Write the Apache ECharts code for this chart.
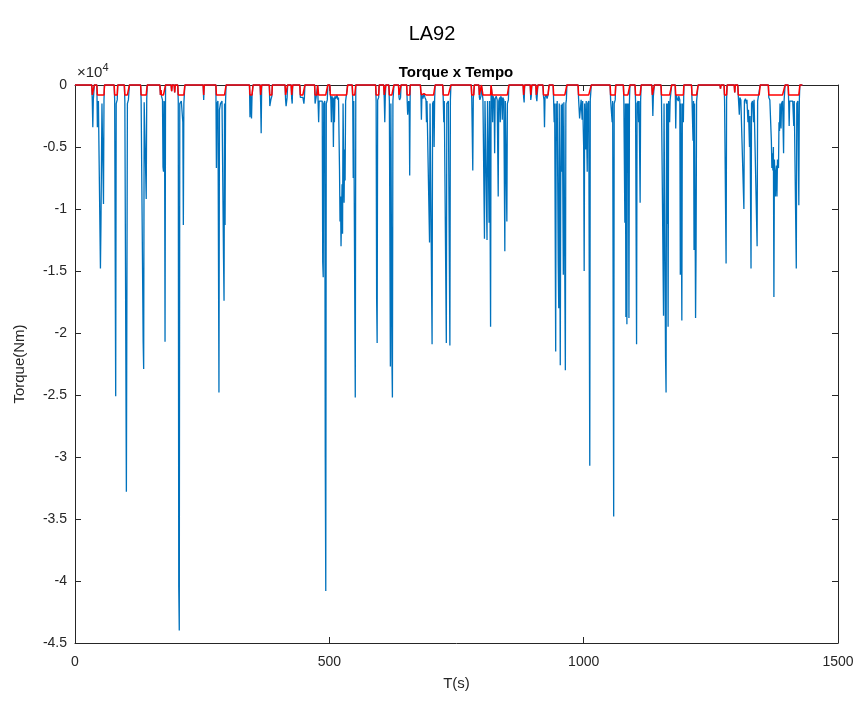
<!DOCTYPE html>
<html>
<head>
<meta charset="utf-8">
<script src="https://cdn.jsdelivr.net/npm/echarts@6/dist/echarts.min.js"></script>
<style>
html,body{margin:0;padding:0;background:#fff;}
#chart{width:864px;height:706px;}
</style>
</head>
<body>
<div id="chart"></div>
<script>
// Tick values
const xTicks = [0, 500, 1000, 1500];
const yTicks = [0, -5000, -10000, -15000, -20000, -25000, -30000, -35000, -40000, -45000];

// Torque samples [time (s), torque (Nm)]
const torqueAmostras = [
  [0,0],
  [33,0],[34,-1300],[35,-3400],[36,-1200],[37,-1300],[38,0],
  [43,0],[44,-3400],[46,-1300],[49,-1200],[50,-14800],[51,-11300],[53,-1500],[55,-1400],[56,-9600],[57,-1200],[58,0],
  [77,0],[78,-1200],[80,-25100],[81,-1500],[83,-1200],[84,0],
  [97,0],[98,-1300],[101,-32800],[103,-1500],[105,-1200],[107,0],
  [129,0],[130,-1200],[133,-1300],[134,-20700],[135,-22900],[136,-1400],[138,-1300],[139,-7200],[140,-9200],[141,-1200],[142,0],
  [167,0],[168,-800],[169,-400],[170,-900],[172,-1200],[173,-6600],[174,-7000],[175,-1300],[176,-1500],[177,-20700],[178,0],
  [189,0],[190,-500],[191,0],[195,0],[196,-600],[197,0],
  [202,0],[203,-1300],[204,-40500],[205,-44000],[206,-1500],[209,-1300],[212,-3000],[213,-11300],[214,-1500],[216,0],
  [252,0],[253,-1200],[254,0],
  [277,0],[278,-6700],[279,-1500],[281,-1300],[283,-24800],[284,-2000],[286,-1500],[289,-1300],[292,-14000],[293,-17400],[294,-1500],[295,-11300],[296,-1300],[297,0],
  [343,0],[344,-2600],[345,-800],[346,-1200],[347,-2700],[348,-900],[349,-1000],[350,0],
  [364,0],[365,-1500],[366,-3900],[367,0],
  [382,0],[383,-1700],[385,-1200],[387,-900],[388,0],
  [413,0],[414,-1200],[415,-1700],[417,-1000],[418,0],
  [425,0],[426,-1100],[427,-1500],[428,0],
  [442,0],[443,-1000],[444,-1100],[448,-1000],[450,-1500],[451,-1000],[452,0],
  [471,0],[472,-1500],[474,-1000],[476,-1000],[477,0],
  [478,0],[479,-3000],[480,-1300],[483,-1200],[486,-1300],[487,-14300],[488,-15500],[489,-1500],[491,-1300],[492,-30000],[493,-40800],[494,-1500],[496,-1200],[497,0],
  [501,0],[502,-800],[503,-1200],[504,-3000],[505,-900],[507,-1200],[508,-5000],[509,-1000],[510,-3000],[511,-900],[513,-1100],[515,-800],[517,-1200],[518,-1000],[520,-6800],[521,-11000],[522,-9000],[523,-13000],[524,-10500],[525,-8000],[526,-12000],[527,-1500],[529,-9500],[530,-5200],[531,-7700],[532,-1300],[534,-1200],[536,0],
  [545,0],[546,-1200],[547,-7500],[548,-1300],[550,-1200],[551,-25200],[552,0],
  [591,0],[592,-1300],[593,-17300],[594,-20800],[595,-1200],[597,-1000],[598,0],
  [607,0],[608,-1100],[609,-3000],[610,-1000],[611,0],
  [617,0],[618,-1300],[620,-22700],[621,-1500],[623,-22000],[624,-25200],[625,-1300],[627,0],
  [636,0],[637,-1000],[638,-1200],[640,-1000],[641,0],
  [652,0],[653,-1200],[654,-2400],[656,-1300],[657,-1500],[658,-7300],[659,0],
  [679,0],[680,-600],[681,-2800],[682,-800],[684,-1100],[686,-700],[688,-1000],
  [690,-1200],[691,-3000],[692,-1300],[695,-1400],[697,-12700],[698,-1500],[700,-1400],[702,-20900],[703,-1500],[705,-1300],[706,-5000],[707,-1200],[708,0],
  [723,0],[724,-1200],[725,-3000],[726,-1300],[729,-1200],[730,-20800],[731,-1500],[734,-1300],[737,-21000],[738,-1200],[739,0],
  [779,0],[780,-1100],[781,-1200],[782,-6900],[783,-1100],[784,-1000],[785,0],
  [794,0],[795,-1000],[796,-1200],[798,-900],[799,0],
  [801,0],[802,-1200],[805,-12400],[806,-1300],[808,-1200],[810,-12500],[811,-1300],[813,-7200],[814,-11100],[815,-1300],[817,-19500],[818,0],
  [819,0],[820,-800],[821,-3000],[822,-900],[824,-1200],[825,-5500],[826,-1100],[828,-900],[830,-1200],[832,-9000],[833,-1300],[835,-1000],[836,-3000],[837,-900],[839,-1100],[840,-2800],[841,-1000],[843,-1200],[845,-13400],[846,-1300],[848,-1200],[849,-11000],[850,-1500],[852,-1200],[853,0],
  [881,0],[882,-1000],[883,-1400],[884,0],
  [895,0],[896,-1200],[897,-900],[898,0],
  [906,0],[907,-1000],[908,-1300],[910,0],
  [920,0],[921,-900],[922,-1200],[923,-3400],[924,-1000],[926,-800],[928,-1100],[929,-1200],[930,-800],[932,0],
  [940,0],[941,-1300],[942,-3000],[943,-1500],[945,-21500],[946,-1500],[947,-4500],[948,-1300],[950,-14400],[951,-18000],[952,-1500],[954,-22600],[955,-7000],[956,-1600],[957,-7000],[958,-1500],[960,-15300],[961,-1400],[963,-1500],[964,-23000],[965,-1500],[966,-1200],[967,0],
  [989,0],[990,-1100],[992,-2700],[993,-2600],[995,-1200],[997,-2800],[998,-1300],[1000,-5000],[1001,-15000],[1002,-1500],[1004,-5200],[1005,-1300],[1007,-7000],[1008,-1500],[1010,-1300],[1012,-30700],[1013,-1200],[1015,0],
  [1052,0],[1053,-1200],[1055,-1300],[1056,-3000],[1057,-1300],[1059,-34800],[1060,-1500],[1062,-1200],[1063,0],
  [1078,0],[1079,-1300],[1081,-11100],[1082,-1500],[1083,-18700],[1084,-1500],[1085,-19300],[1086,-1500],[1087,-7100],[1088,-1500],[1089,-18800],[1090,-1300],[1091,0],
  [1101,0],[1102,-1300],[1104,-20900],[1105,-1500],[1107,-1300],[1108,-3000],[1109,-1300],[1111,-9500],[1112,-1200],[1113,0],
  [1134,0],[1135,-800],[1136,-2500],[1137,-900],[1138,-1000],[1139,0],
  [1152,0],[1153,-1200],[1155,-1300],[1157,-18600],[1158,-1500],[1161,-22000],[1162,-24800],[1163,-1500],[1164,-11200],[1165,-1500],[1166,-19500],[1167,-1300],[1169,-3000],[1170,-1200],[1173,0],
  [1180,0],[1181,-3500],[1182,-800],[1184,-1100],[1186,-1300],[1187,-900],[1189,-1200],[1190,-15300],[1191,-1500],[1193,-19000],[1194,-1500],[1196,-3000],[1197,0],
  [1212,0],[1213,-1200],[1215,-4500],[1216,-1300],[1217,-13300],[1218,-1500],[1220,-18800],[1221,-13000],[1222,-1300],[1224,-1200],[1225,0],
  [1268,0],[1269,-300],[1270,0],[1276,0],[1277,-1200],[1279,-1300],[1280,-14400],[1281,-1200],[1282,0],
  [1296,0],[1297,-600],[1298,0],
  [1303,0],[1304,-900],[1306,-2400],[1307,-1000],[1309,-1200],[1311,-1300],[1315,-10000],[1316,-1300],[1318,-1100],[1320,-1500],[1321,-1200],[1323,-3000],[1324,-2000],[1326,-5000],[1327,-2500],[1329,-14800],[1330,-1500],[1332,-1300],[1334,-3000],[1335,-1200],[1338,-1200],[1341,-13000],[1342,-1300],[1345,-1200],[1347,0],
  [1363,0],[1364,-1000],[1366,-1200],[1368,-1100],[1369,-4500],[1370,-6700],[1371,-5500],[1372,-6900],[1373,-5000],[1374,-17100],[1375,-6000],[1377,-9000],[1378,-7000],[1379,-6500],[1380,-9000],[1381,-6000],[1383,-6700],[1384,-3000],[1385,-3700],[1386,-1500],[1388,-3500],[1389,-1500],[1391,-1300],[1393,-5500],[1394,-1300],[1396,0],
  [1402,0],[1403,-1300],[1404,-3300],[1405,-1300],[1408,-1200],[1411,-1300],[1413,-3300],[1414,-1300],[1416,-1200],[1418,-14800],[1419,-1500],[1421,-1300],[1423,-9700],[1424,-1200],[1425,0],
  [1430,0]
];

// Red curve: torque limited to the regenerative cap
const limiteRegen = -800;
const torqueLimitado = torqueAmostras.map(p => [p[0], Math.max(p[1], limiteRegen)]);

const axisColor = '#262626';
const fontFam = '"Liberation Sans", Arial, Helvetica, sans-serif';

const chart = echarts.init(document.getElementById('chart'), null, {renderer: 'canvas'});
const option = {
  animation: false,
  backgroundColor: '#ffffff',
  grid: {left: 75, right: 26, top: 85, bottom: 63, containLabel: false},
  graphic: [
    {type: 'text', left: 'center', top: 24, style: {text: 'LA92', font: '20px ' + fontFam, fill: '#000'}},
    {type: 'text', x: 456, y: 73, style: {text: 'Torque x Tempo', font: 'bold 15px ' + fontFam, fill: '#000', textAlign: 'center', textVerticalAlign: 'middle'}},
    {type: 'text', x: 77, y: 73, style: {
      text: '{a|×10}{b|4}', textVerticalAlign: 'middle',
      rich: {
        a: {fontSize: 15, fontFamily: fontFam, fill: axisColor, color: axisColor},
        b: {fontSize: 11, fontFamily: fontFam, fill: axisColor, color: axisColor, padding: [0, 0, 10, 0]}
      }
    }}
  ],
  xAxis: [
    {
      type: 'value', min: 0, max: 1500, interval: 500, position: 'bottom',
      name: 'T(s)', nameLocation: 'middle', nameGap: 33,
      nameTextStyle: {fontSize: 15, fontFamily: fontFam, color: axisColor},
      axisLine: {show: true, onZero: false, lineStyle: {color: axisColor, width: 1}},
      axisTick: {show: true, inside: true, length: 6, lineStyle: {color: axisColor}},
      axisLabel: {fontSize: 14, fontFamily: fontFam, color: axisColor, margin: 12,
        formatter: v => String(v)},
      splitLine: {show: false}
    },
    {
      type: 'value', min: 0, max: 1500, interval: 500, position: 'top',
      axisLine: {show: true, onZero: false, lineStyle: {color: axisColor, width: 1}},
      axisTick: {show: true, inside: true, length: 6, lineStyle: {color: axisColor}},
      axisLabel: {show: false},
      splitLine: {show: false}
    }
  ],
  yAxis: [
    {
      type: 'value', min: -45000, max: 0, interval: 5000, position: 'left',
      name: 'Torque(Nm)', nameLocation: 'middle', nameGap: 48, nameRotate: 90,
      nameTextStyle: {fontSize: 15, fontFamily: fontFam, color: axisColor},
      axisLine: {show: true, onZero: false, lineStyle: {color: axisColor, width: 1}},
      axisTick: {show: true, inside: true, length: 6, lineStyle: {color: axisColor}},
      axisLabel: {fontSize: 14, fontFamily: fontFam, color: axisColor, margin: 8,
        formatter: v => String(Math.round(v / 1000) / 10)},
      splitLine: {show: false}
    },
    {
      type: 'value', min: -45000, max: 0, interval: 5000, position: 'right',
      axisLine: {show: true, onZero: false, lineStyle: {color: axisColor, width: 1}},
      axisTick: {show: true, inside: true, length: 6, lineStyle: {color: axisColor}},
      axisLabel: {show: false},
      splitLine: {show: false}
    }
  ],
  series: [
    {
      type: 'line', name: 'Torque', data: torqueAmostras, xAxisIndex: 0, yAxisIndex: 0,
      showSymbol: false, symbol: 'none', clip: false,
      lineStyle: {color: '#0072BD', width: 1.3}, z: 2
    },
    {
      type: 'line', name: 'Torque limitado', data: torqueLimitado, xAxisIndex: 0, yAxisIndex: 0,
      showSymbol: false, symbol: 'none', clip: false,
      lineStyle: {color: '#FF0000', width: 1.5}, z: 3
    }
  ]
};
chart.setOption(option);
</script>
</body>
</html>
